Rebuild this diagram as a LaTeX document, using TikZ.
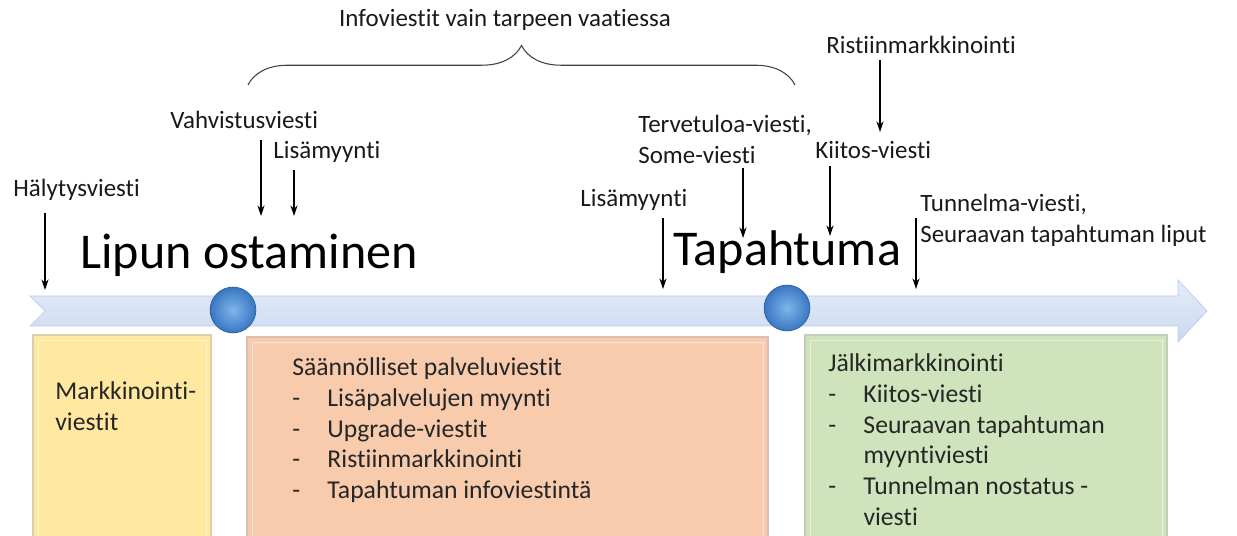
\documentclass[tikz,border=0pt]{standalone}
\usepackage{fontspec}
\setmainfont{Carlito}[Ligatures=NoCommon,RawFeature={-liga;-clig;-calt;-dlig}]
\usetikzlibrary{arrows.meta,decorations.pathreplacing}
\definecolor{bandtop}{HTML}{E4ECF8}
\definecolor{bandbot}{HTML}{CBD9F0}
\definecolor{bandline}{HTML}{B9CBE8}
\definecolor{dotin}{HTML}{7FB5EA}
\definecolor{dotout}{HTML}{3A77C3}
\definecolor{yelfill}{HTML}{FFE89F}
\definecolor{orafill}{HTML}{F8CBAD}
\definecolor{grefill}{HTML}{CFE4BC}
\tikzstyle{msgtext}=[inner sep=0,anchor=west,align=left,text=black!90,font=\fontsize{14.2}{17.6}\selectfont]
\tikzstyle{phase}=[inner sep=0,anchor=west,font=\fontsize{28.5}{30}\selectfont]
\tikzstyle{boxtext}=[inner sep=0,anchor=north west,align=left,text=black!85,font=\fontsize{14.6}{17.6}\selectfont]
\tikzset{msgarrow/.style={-{Stealth[length=6pt,width=4pt]},line width=0.6pt}}
\tikzset{dot/.style={circle,inner sep=0,minimum size=26pt,inner color=dotin,outer color=dotout,draw=dotout!85!black,line width=0.5pt}}
\tikzset{phasebox/.style={fill=#1,draw=#1!75!black!60,line width=0.6pt}}
\newcommand{\itm}[1]{\makebox[20pt][l]{-}#1}

\begin{document}
\begin{tikzpicture}[x=0.02cm,y=-0.02cm]
\useasboundingbox (0,0) rectangle (1237,536);

% timeline
\shade[top color=bandtop,bottom color=bandbot,draw=bandline] (30,296) -- (1178,296) -- (1178,280) -- (1207,311) -- (1178,342) -- (1178,326) -- (30,326) -- (45,311) -- cycle;
\node[dot] (buy) at (233,310) {};
\node[dot] (event) at (787,308) {};

% phase boxes
\draw[phasebox=yelfill] (33,335) rectangle (211,545);
\draw[phasebox=orafill] (247,337) rectangle (768,545);
\draw[phasebox=grefill] (805,335) rectangle (1167,545);
\draw[white,opacity=0.5] (38,340) rectangle (206,545);
\draw[white,opacity=0.5] (252,342) rectangle (763,545);
\draw[white,opacity=0.5] (810,340) rectangle (1162,545);

\node[boxtext] (markk) at (55,381) {Markkinointi-\\viestit};
\node[boxtext] (palvelu) at (292,357) {Säännölliset palveluviestit\\
  \itm{Lisäpalvelujen myynti}\\
  \itm{Upgrade-viestit}\\
  \itm{Ristiinmarkkinointi}\\
  \itm{Tapahtuman infoviestintä}};
\node[boxtext] (jalki) at (828,353) {Jälkimarkkinointi\\
  \itm{Kiitos-viesti}\\
  \itm{Seuraavan tapahtuman}\\
  \hspace*{20pt}myyntiviesti\\
  \itm{Tunnelman nostatus -}\\
  \hspace*{20pt}viesti};

% phases
\node[phase] (lipun) at (80,255) {Lipun ostaminen};
\node[phase] (tapahtuma) at (673,252) {Tapahtuma};

% messages
\node[msgtext] (halytys) at (13,190) {Hälytysviesti};
\node[msgtext] (vahvistus) at (170,120) {Vahvistusviesti};
\node[msgtext] (lisa1) at (273,152) {Lisämyynti};
\node[msgtext] (lisa2) at (580,200) {Lisämyynti};
\node[msgtext] (tervetuloa) at (638,139) {Tervetuloa-viesti,\\Some-viesti};
\node[msgtext] (ristiin) at (826,45) {Ristiinmarkkinointi};
\node[msgtext] (kiitos) at (815,150) {Kiitos-viesti};
\node[msgtext] (tunnelma) at (920,220) {Tunnelma-viesti,\\Seuraavan tapahtuman liput};
\node[msgtext,anchor=center] (info) at (505,20) {Infoviestit vain tarpeen vaatiessa};

\coordinate (h1) at (45,213);  \coordinate (h2) at (45,290);
\coordinate (v1) at (261,140); \coordinate (v2) at (261,216);
\coordinate (l1) at (294,170); \coordinate (l2) at (294,216);
\coordinate (m1) at (663,218); \coordinate (m2) at (663,289);
\coordinate (t1) at (743,168); \coordinate (t2) at (743,238);
\coordinate (r1) at (880,60);  \coordinate (r2) at (880,132);
\coordinate (k1) at (830,166); \coordinate (k2) at (830,236);
\coordinate (s1) at (916,218); \coordinate (s2) at (916,289);
\draw[msgarrow] (h1) -- (h2);
\draw[msgarrow] (v1) -- (v2);
\draw[msgarrow] (l1) -- (l2);
\draw[msgarrow] (m1) -- (m2);
\draw[msgarrow] (t1) -- (t2);
\draw[msgarrow] (r1) -- (r2);
\draw[msgarrow] (k1) -- (k2);
\draw[msgarrow] (s1) -- (s2);

\coordinate (bl) at (248,85);
\coordinate (br) at (795,85);
\draw[decorate,decoration={brace,amplitude=22.5pt},draw=black!75,line width=0.6pt] (bl) -- (br);

\end{tikzpicture}
\end{document}
